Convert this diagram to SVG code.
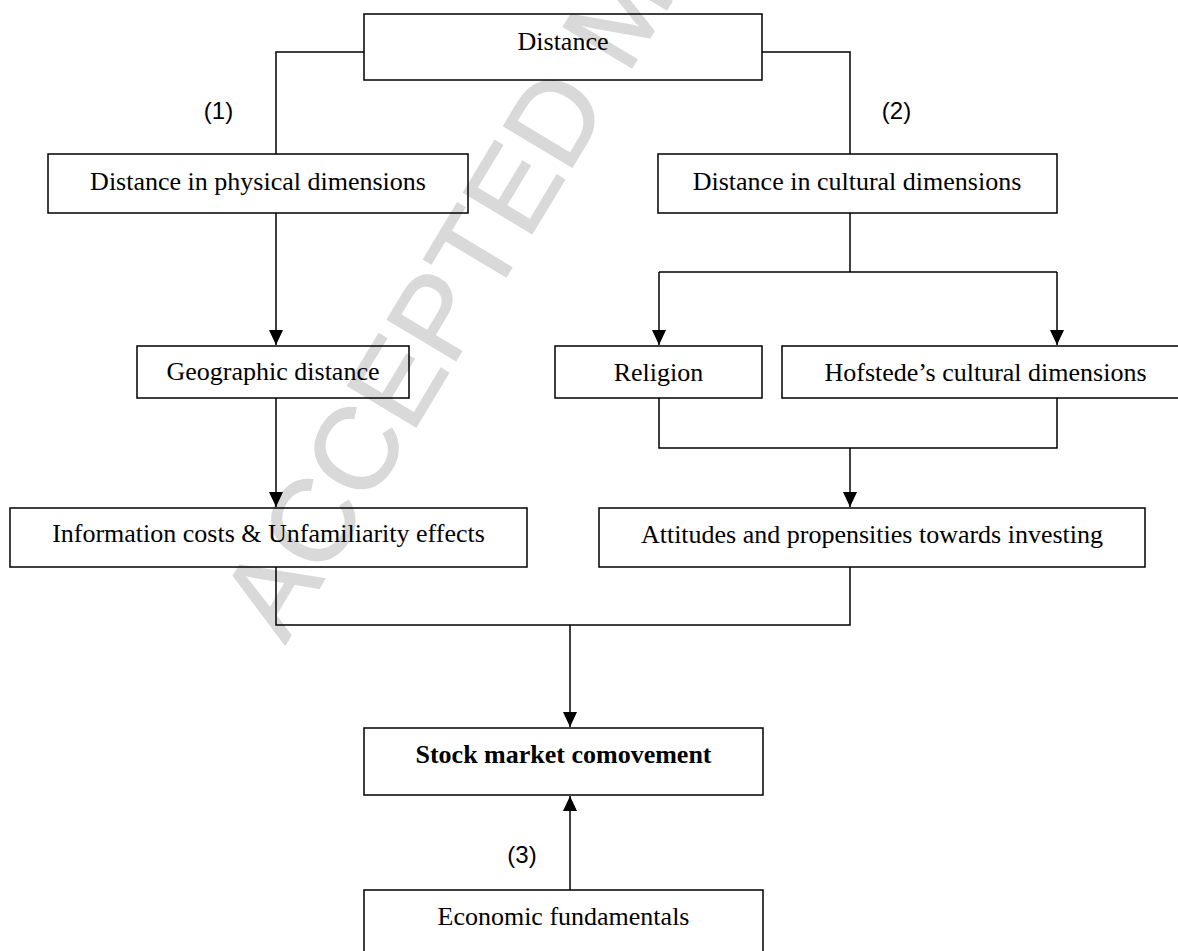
<svg xmlns="http://www.w3.org/2000/svg" width="1178" height="951" viewBox="0 0 1178 951">
<style>
.box{fill:none;stroke:#000;stroke-width:1.5}
.t{font-family:"Liberation Serif","Times New Roman",serif;font-size:26px;text-anchor:middle;fill:#000}
.b{font-weight:bold}
.lab{font-family:"Liberation Sans",Arial,sans-serif;font-size:24px;text-anchor:middle;fill:#000}
.c{fill:none;stroke:#000;stroke-width:1.5}
.wm{font-family:"Liberation Sans",Arial,sans-serif;font-size:116px;fill:#d9d9d9;stroke:#d9d9d9;stroke-width:1.5}
</style>
<defs>
<marker id="ah" markerUnits="userSpaceOnUse" markerWidth="15" markerHeight="14" viewBox="0 0 15 14" refX="15" refY="7" orient="auto">
<path d="M0,0 L15,7 L0,14 z" fill="#000"/>
</marker>
</defs>
<rect width="1178" height="951" fill="#fff"/>
<text class="wm" x="285" y="645" transform="rotate(-59 285 645)">ACCEPTED MANUSCRIPT</text>
<g id="connectors">
<path class="c" d="M364,52 H276 V154"/>
<path class="c" d="M762,52 H850 V154"/>
<path class="c" d="M276,213 V345" marker-end="url(#ah)"/>
<path class="c" d="M276,398 V507" marker-end="url(#ah)"/>
<path class="c" d="M850,213 V272"/>
<path class="c" d="M659,272 H1057"/>
<path class="c" d="M659,272 V345" marker-end="url(#ah)"/>
<path class="c" d="M1057,272 V345" marker-end="url(#ah)"/>
<path class="c" d="M659,398 V448 H1057 V398"/>
<path class="c" d="M850,448 V507" marker-end="url(#ah)"/>
<path class="c" d="M276,567 V625 H850 V567"/>
<path class="c" d="M570,625 V727" marker-end="url(#ah)"/>
<path class="c" d="M570,890 V796" marker-end="url(#ah)"/>
<text class="lab" x="218.5" y="119">(1)</text>
<text class="lab" x="896.5" y="119">(2)</text>
<text class="lab" x="522" y="863">(3)</text>
</g>
<g id="n_distance"><rect class="box" x="364" y="14" width="398" height="66"/><text class="t" x="563" y="50">Distance</text></g>
<g id="n_physical"><rect class="box" x="48" y="154" width="420" height="59"/><text class="t" x="258" y="190">Distance in physical dimensions</text></g>
<g id="n_cultural"><rect class="box" x="658" y="154" width="399" height="59"/><text class="t" x="857" y="190">Distance in cultural dimensions</text></g>
<g id="n_geographic"><rect class="box" x="137" y="346" width="272" height="52"/><text class="t" x="273" y="380">Geographic distance</text></g>
<g id="n_religion"><rect class="box" x="555" y="346" width="207" height="52"/><text class="t" x="658.5" y="380.5">Religion</text></g>
<g id="n_hofstede"><rect class="box" x="782" y="346" width="408" height="52"/><text class="t" x="985.5" y="380.5">Hofstede’s cultural dimensions</text></g>
<g id="n_information"><rect class="box" x="10" y="508" width="517" height="59"/><text class="t" x="268.5" y="542">Information costs &amp; Unfamiliarity effects</text></g>
<g id="n_attitudes"><rect class="box" x="599" y="508" width="546" height="59"/><text class="t" x="872" y="543">Attitudes and propensities towards investing</text></g>
<g id="n_stock"><rect class="box" x="364" y="728" width="399" height="67"/><text class="t b" x="563.5" y="763">Stock market comovement</text></g>
<g id="n_economic"><rect class="box" x="364" y="890" width="399" height="70"/><text class="t" x="563.5" y="925">Economic fundamentals</text></g>
</svg>
